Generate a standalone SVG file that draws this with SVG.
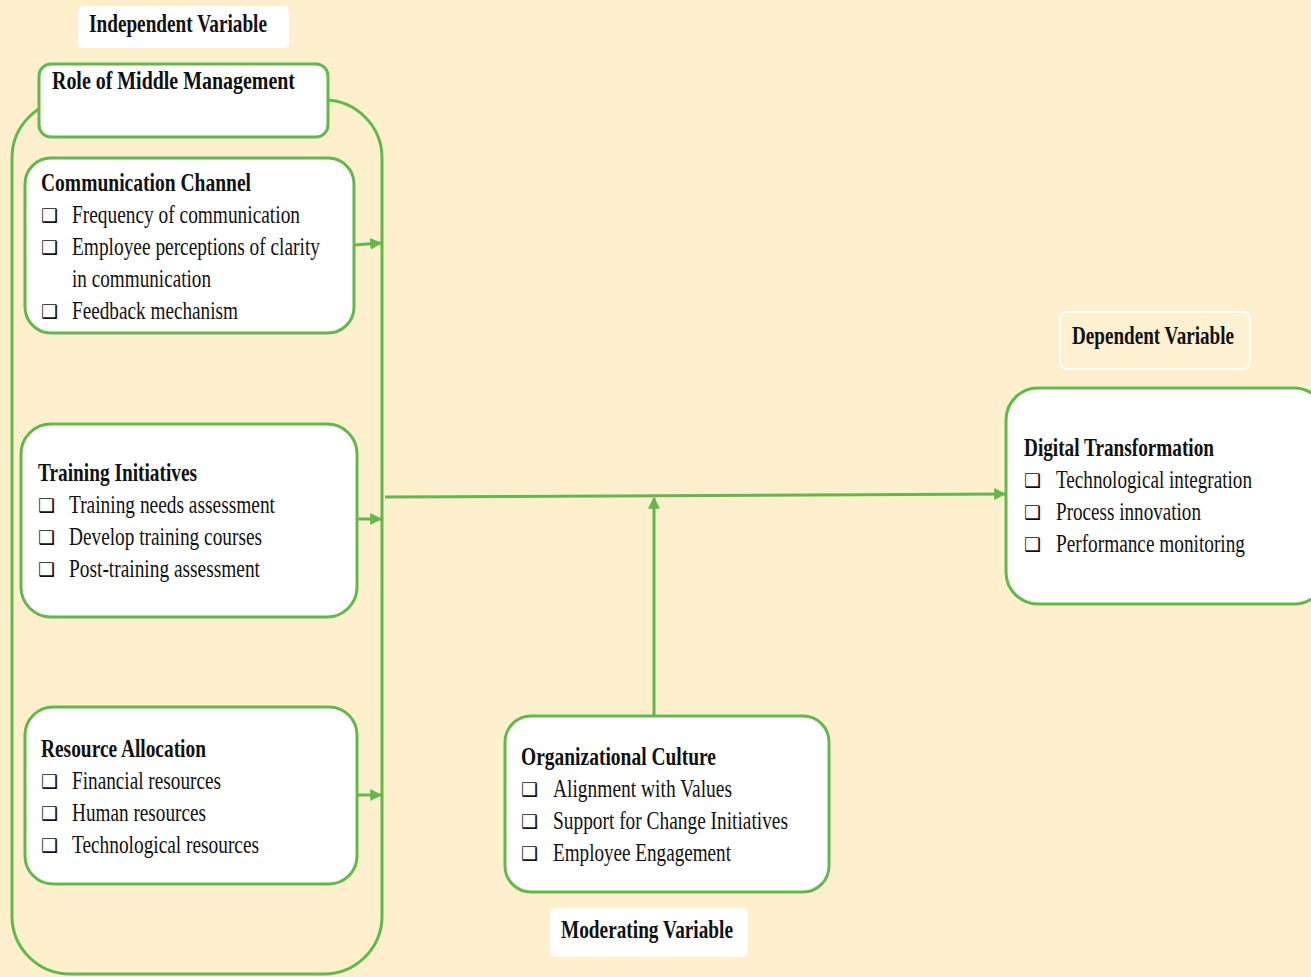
<svg xmlns="http://www.w3.org/2000/svg" width="1311" height="977" viewBox="0 0 1311 977">
<defs>
<style>
.bg{fill:#FEF0CD}
.node{fill:#FFFFFF;stroke:#62B84A;stroke-width:3}
.lbl{fill:#FFFFFF;stroke:none}
.t{font-family:"Liberation Serif","Times New Roman",serif;font-size:25px;fill:#111}
.b{font-weight:bold}
.cb{font-family:"DejaVu Sans",sans-serif;font-size:19px;fill:#111}
.conn{stroke:#62B84A;stroke-width:3;fill:none}
</style>
<marker id="arr" viewBox="0 0 10 10" refX="9" refY="5" markerWidth="4" markerHeight="4" orient="auto" markerUnits="strokeWidth">
<path d="M0,0 L10,5 L0,10 z" fill="#62B84A"/>
</marker>
</defs>
<rect class="bg" x="0" y="0" width="1311" height="977"/>

<g id="outer-group">
<rect class="node" style="fill:none" x="12" y="100" width="370" height="874" rx="58" ry="58"/>
</g>

<g id="independent-label">
<rect class="lbl" x="78" y="6" width="211" height="42" rx="5"/>
<text class="t b" x="89" y="32" textLength="178" lengthAdjust="spacingAndGlyphs">Independent Variable</text>
</g>

<g id="role-middle-management">
<rect class="node" x="39" y="64" width="289" height="73" rx="12"/>
<text class="t b" x="52" y="89" textLength="243" lengthAdjust="spacingAndGlyphs">Role of  Middle Management</text>
</g>

<g id="communication-channel">
<rect class="node" x="25" y="158" width="329" height="175" rx="26"/>
<text class="t b" x="41" y="191" textLength="210" lengthAdjust="spacingAndGlyphs">Communication Channel</text>
<text class="cb" x="41" y="222">❑</text>
<text class="t" x="72" y="223" textLength="228" lengthAdjust="spacingAndGlyphs">Frequency of communication</text>
<text class="cb" x="41" y="254">❑</text>
<text class="t" x="72" y="255" textLength="248" lengthAdjust="spacingAndGlyphs">Employee perceptions of clarity</text>
<text class="t" x="72" y="287" textLength="139" lengthAdjust="spacingAndGlyphs">in communication</text>
<text class="cb" x="41" y="318">❑</text>
<text class="t" x="72" y="319" textLength="166" lengthAdjust="spacingAndGlyphs">Feedback mechanism</text>
</g>

<g id="training-initiatives">
<rect class="node" x="21" y="424" width="336" height="193" rx="30"/>
<text class="t b" x="38" y="481" textLength="159" lengthAdjust="spacingAndGlyphs">Training Initiatives</text>
<text class="cb" x="38" y="512">❑</text>
<text class="t" x="69" y="513" textLength="206" lengthAdjust="spacingAndGlyphs">Training needs assessment</text>
<text class="cb" x="38" y="544">❑</text>
<text class="t" x="69" y="545" textLength="193" lengthAdjust="spacingAndGlyphs">Develop training courses</text>
<text class="cb" x="38" y="576">❑</text>
<text class="t" x="69" y="577" textLength="191" lengthAdjust="spacingAndGlyphs">Post-training assessment</text>
</g>

<g id="resource-allocation">
<rect class="node" x="25" y="707" width="332" height="177" rx="28"/>
<text class="t b" x="41" y="757" textLength="165" lengthAdjust="spacingAndGlyphs">Resource Allocation</text>
<text class="cb" x="41" y="788">❑</text>
<text class="t" x="72" y="789" textLength="149" lengthAdjust="spacingAndGlyphs">Financial resources</text>
<text class="cb" x="41" y="820">❑</text>
<text class="t" x="72" y="821" textLength="134" lengthAdjust="spacingAndGlyphs">Human resources</text>
<text class="cb" x="41" y="852">❑</text>
<text class="t" x="72" y="853" textLength="187" lengthAdjust="spacingAndGlyphs">Technological resources</text>
</g>

<g id="organizational-culture">
<rect class="node" x="505" y="716" width="324" height="176" rx="26"/>
<text class="t b" x="521" y="765" textLength="195" lengthAdjust="spacingAndGlyphs">Organizational Culture</text>
<text class="cb" x="521" y="796">❑</text>
<text class="t" x="553" y="797" textLength="179" lengthAdjust="spacingAndGlyphs">Alignment with Values</text>
<text class="cb" x="521" y="828">❑</text>
<text class="t" x="553" y="829" textLength="235" lengthAdjust="spacingAndGlyphs">Support for Change Initiatives</text>
<text class="cb" x="521" y="860">❑</text>
<text class="t" x="553" y="861" textLength="178" lengthAdjust="spacingAndGlyphs">Employee Engagement</text>
</g>

<g id="moderating-label">
<rect class="lbl" x="550" y="908" width="198" height="49" rx="5"/>
<text class="t b" x="561" y="938" textLength="172" lengthAdjust="spacingAndGlyphs">Moderating Variable</text>
</g>

<g id="dependent-label">
<rect x="1060" y="312" width="190" height="57" rx="7" fill="#FEF1D2" stroke="#FFFFFF" stroke-width="2"/>
<text class="t b" x="1072" y="344" textLength="162" lengthAdjust="spacingAndGlyphs">Dependent Variable</text>
</g>

<g id="digital-transformation">
<rect class="node" x="1006" y="388" width="320" height="216" rx="32"/>
<text class="t b" x="1024" y="456" textLength="190" lengthAdjust="spacingAndGlyphs">Digital Transformation</text>
<text class="cb" x="1024" y="487">❑</text>
<text class="t" x="1056" y="488" textLength="196" lengthAdjust="spacingAndGlyphs">Technological integration</text>
<text class="cb" x="1024" y="519">❑</text>
<text class="t" x="1056" y="520" textLength="145" lengthAdjust="spacingAndGlyphs">Process innovation</text>
<text class="cb" x="1024" y="551">❑</text>
<text class="t" x="1056" y="552" textLength="189" lengthAdjust="spacingAndGlyphs">Performance monitoring</text>
</g>

<g id="connectors">
<line class="conn" x1="354" y1="245" x2="381" y2="243" marker-end="url(#arr)"/>
<line class="conn" x1="357" y1="519" x2="381" y2="519" marker-end="url(#arr)"/>
<line class="conn" x1="357" y1="795" x2="381" y2="795" marker-end="url(#arr)"/>
<line class="conn" x1="385" y1="497" x2="1005" y2="494" marker-end="url(#arr)"/>
<line class="conn" x1="654" y1="715" x2="654" y2="498" marker-end="url(#arr)"/>
</g>
</svg>
